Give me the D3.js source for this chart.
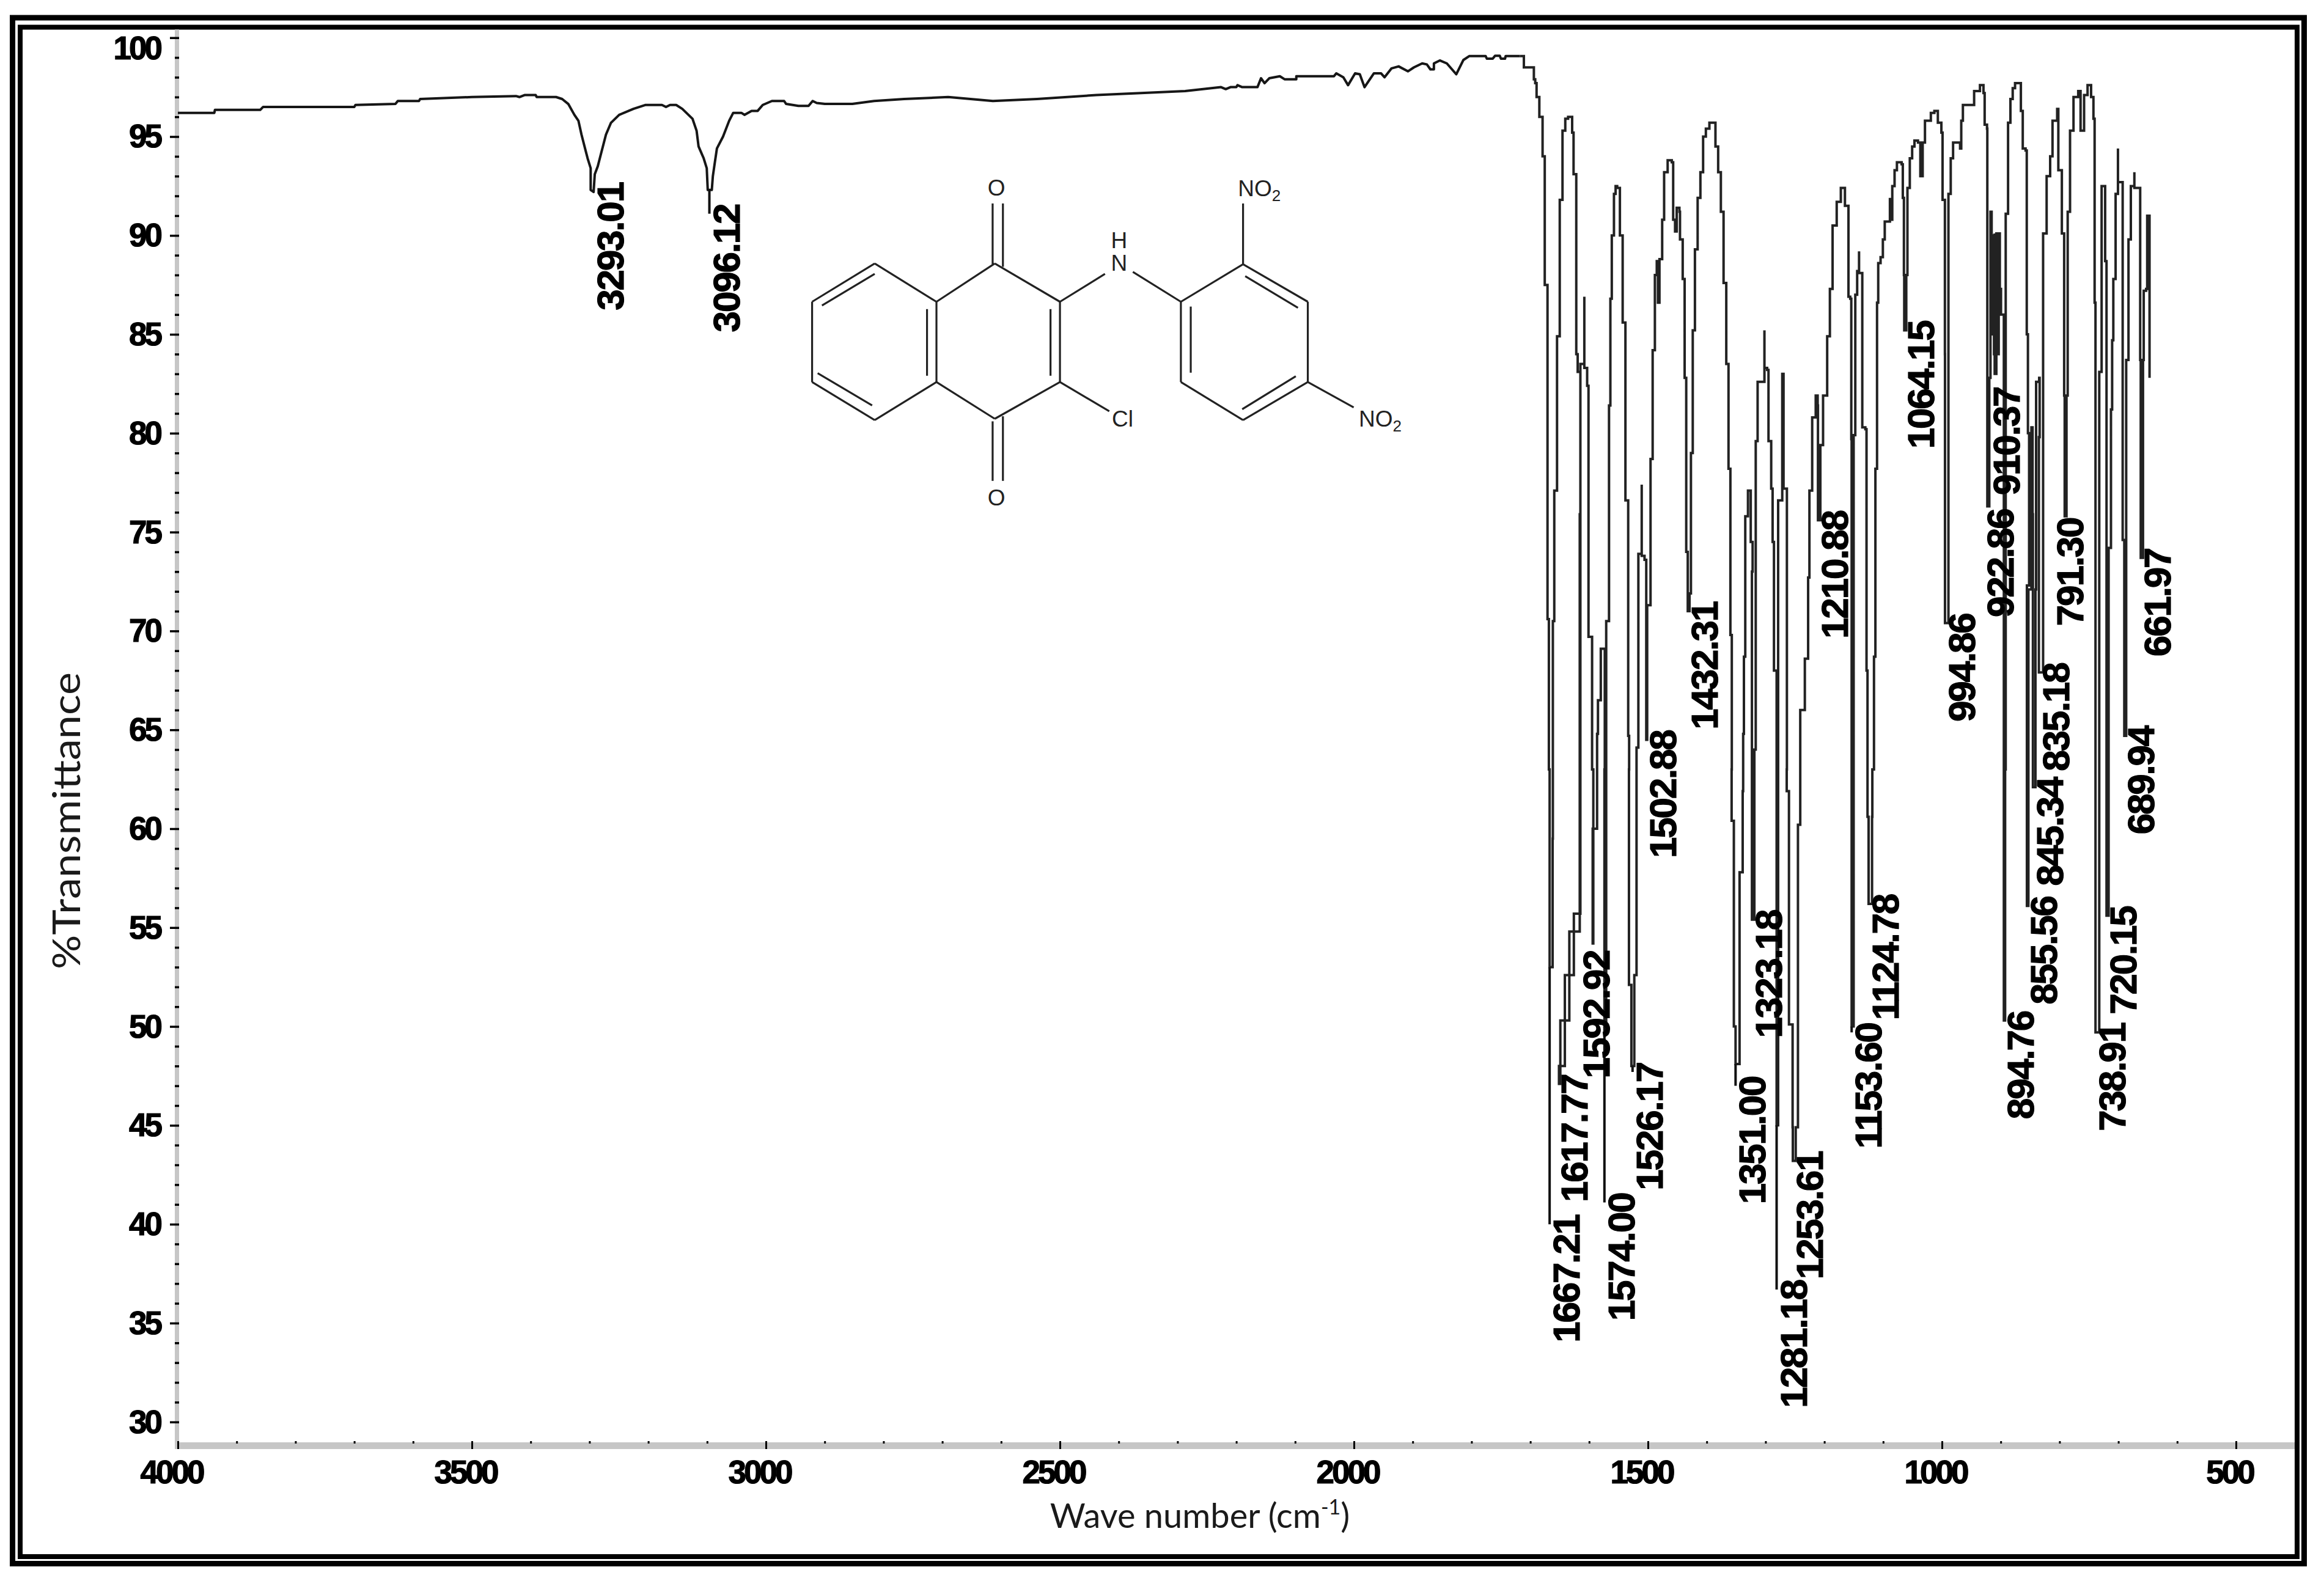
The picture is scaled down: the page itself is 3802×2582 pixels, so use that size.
<!DOCTYPE html>
<html><head><meta charset="utf-8">
<script src="https://cdn.jsdelivr.net/npm/d3@7"></script>
<style>html,body{margin:0;background:#fff}svg{display:block}</style>
</head><body><svg id="c" width="3802" height="2582"></svg>
<script>
// --- chart values -------------------------------------------------------
const yTicks = [100,95,90,85,80,75,70,65,60,55,50,45,40,35,30];
const xTicks = [4000,3500,3000,2500,2000,1500,1000,500];

// wave number, %T : smooth part of the trace
const baseline = [[4000,96.2],[3938,96.2],[3937,96.35],[3860,96.35],[3855,96.5],[3700,96.5],[3698,96.6],[3630,96.65],[3626,96.8],[3590,96.8],[3588,96.9],[3500,97],[3425,97.05],
[3419.2,97],[3410.5,97.1],[3391.5,97.1],[3389.8,97],[3356.9,97],[3346.5,96.9],[3336.1,96.65],[3325.7,96.1],[3318.8,95.8],[3313.6,95.1],[3308.4,94.5],[3303.2,93.9],[3298,93.4],[3298,92.3],[3293.01,92.2],[3291,93.1],[3285.9,93.5],[3279,94.3],[3272,95.1],[3263.4,95.7],[3249.5,96.1],[3225.3,96.4],[3204.5,96.6],[3176.8,96.6],[3169.9,96.5],[3163,96.6],[3152.6,96.6],[3142.2,96.4],[3124.8,95.9],[3117.9,95.3],[3114.5,94.5],[3105.8,93.9],[3100.6,93.4],[3098.9,92.3],[3092,92.3],[3090.2,93],[3086.8,93.7],[3083.3,94.4],[3072.9,95],[3062.5,95.8],[3055.6,96.2],[3041.7,96.2],[3036.5,96.1],[3024.4,96.3],[3014,96.3],[3005.4,96.6],[2989.8,96.8],[2969,96.8],[2965.6,96.65],[2944.8,96.55],[2927.5,96.55],[2920.5,96.8],[2913.6,96.7],[2899.8,96.65],
[2853,96.65],[2816,96.8],[2765,96.9],[2690,97],[2614,96.8],[2539,96.9],[2438,97.1],[2362,97.2],[2287,97.3],
[2226,97.5],[2218,97.4],[2210,97.5],[2200,97.5],[2198,97.6],[2190,97.5],[2164,97.5],[2158,97.95],[2152,97.7],[2144,97.95],[2126,98.05],[2118,97.9],[2098,97.9],[2098,98.05],[2034,98.05],[2030,98.2],[2018,98],[2010,97.6],[1998,98.2],[1990,98.15],[1982,97.5],[1966,98.2],[1954,98.2],[1948,98],[1936,98.45],[1924,98.55],[1908,98.3],[1898,98.5],[1884,98.7],[1876,98.65],[1870,98.4],[1864,98.4],[1864,98.7],[1854,98.85],[1842,98.7],[1826,98.15],[1814,98.87],[1804,99.07],[1776,99.07],[1774,98.94],[1764,98.94],[1760,99.09],[1752,99.09],[1750,98.94],[1743,98.94],[1742,99.07],[1718,99.07]];

// wave number, %T : stepped part of the trace (the fingerprint bands)
const fingerprint = [[1718,99.07],[1711,98.5],[1694,97.9],[1691.7,97.7],[1689.4,97],[1684.7,96],[1679.2,94],[1675.5,87.5],[1670.8,70.6],[1668.5,63],[1667.21,53],
[1662.1,59.5],[1661.7,70.5],[1659.3,77.1],[1654.6,84.9],[1650,91.8],[1645.3,95.3],[1640.6,95.9],[1635.8,96],[1628.9,95.2],[1626.5,93.1],[1621.9,84],[1619.5,83.1],[1614.9,75.9],[1616,64.8],[1616,55.7],[1626,54.8],[1633.7,52.6],[1641.3,50.3],[1649,48],[1651.3,47.1],[1649,48],[1641.3,50.3],[1633.7,52.6],[1626,54.8],[1616,55.7],
[1614.9,75.9],[1614.9,83.5],[1608.2,83.3],[1608.2,86.9],[1608.2,83.3],[1603.4,82.4],[1601.1,82.4],[1601.1,69.7],[1596.4,69.7],[1595,63],[1592.92,54.2],
[1594,60],[1586.5,60.2],[1586.5,64.8],[1585,66.5],[1580.2,69.1],[1573.4,65.5],[1573.4,63],[1574,50],
[1571,70.5],[1566.2,81.4],[1563.9,86.8],[1561.5,90],[1557.8,92.1],[1555,92.5],[1552.3,92.4],[1547.7,90],[1543,85.6],[1538.3,76.6],[1533.6,64.7],[1532,63],[1532.3,52.1],[1528.17,48],
[1523.2,52.6],[1519.4,60.3],[1519.4,64.1],[1516.3,73.9],[1513.7,73.9],[1510.6,77.4],[1510.6,73.8],[1505.8,73.6],[1503.6,73.6],[1502.88,64.5],
[1501.3,71.3],[1496.6,71.3],[1495.6,78.7],[1492,84.2],[1488.2,88],[1485,88.7],[1483,86.6],[1480.4,88.8],[1475.8,90.8],[1472.5,93.2],[1466.5,93.8],[1459.5,93.7],[1457.1,90.8],[1453.9,90.2],[1451.1,91.4],[1446.5,91.2],[1445.5,89.8],[1440.9,87.8],[1437.6,82.8],[1434.9,74],[1432.31,71],
[1429.3,71.9],[1426.9,79],[1423.8,85.2],[1420.1,89.3],[1415.5,91.9],[1410.8,93.2],[1406.2,95],[1401.5,95.4],[1395.5,95.7],[1389.9,95.7],[1385.2,94.5],[1380.6,93.2],[1376,91.2],[1371.4,87.6],[1366.8,83.5],[1363,78.2],[1359.8,69.8],[1357.4,63],[1357.7,60.4],[1353.9,50],[1351,48.1],
[1344.2,57.8],[1338.9,61.9],[1338.1,64.8],[1336.8,68.7],[1334.5,75.8],[1329.9,77.1],[1325.2,74.5],[1322,73],[1323.18,55.4],
[1319,64],[1316.7,79.6],[1313.5,82.6],[1306.5,82.6],[1301.9,85.2],[1301.9,83.3],[1297.3,83.2],[1295,79.6],[1290.4,77.2],[1288,74.5],[1285.7,68],[1281.18,67.9],[1281.18,45],
[1278.6,76.6],[1271.6,77.4],[1271.6,83],[1269.4,77.2],[1264.6,77.2],[1263.7,63],[1264,61.9],[1260.2,50.1],[1254,44.9],[1253.61,43.2],
[1248.7,44.9],[1244.9,60.2],[1241,60.2],[1241,66],[1233.2,68.6],[1227.6,72.7],[1225.4,77.1],[1220.7,80.8],[1214.7,80.9],[1214.7,81.9],[1211.4,81.4],[1210.88,79.4],[1210.88,75.6],
[1206.8,79.4],[1202.2,81.9],[1195.2,84.9],[1190.6,87.3],[1186,90.5],[1179,91.7],[1172,92.4],[1165,91.5],[1159,91.2],[1159,86.9],[1156,86.8],[1154.2,79.7],[1153.6,76.6],[1153.6,50],
[1150.2,79.9],[1147.4,87],[1144.2,88.2],[1141,89.2],[1141,88.1],[1136.3,88.1],[1135.5,80.3],[1130.3,80.2],[1128.3,68],[1126.6,60.6],[1124.78,56.2],
[1118.9,60.6],[1118.4,63],[1115.6,68.7],[1113.2,78.2],[1110.4,86.6],[1108.4,88.6],[1104.4,88.9],[1100.5,89.8],[1097.3,90.7],[1088.5,91.9],[1088.5,90.8],[1084.5,92.5],[1080.6,93.3],[1076.6,93.7],[1068.6,93.6],[1066.6,91.9],[1064.7,88],[1064.15,85.2],
[1060.7,88],[1058.7,92.4],[1054.7,93.9],[1050.7,94.5],[1046.8,94.8],[1040.8,94.7],[1036.8,93],[1033.6,93],[1032.8,94.7],[1028.9,95.8],[1018.9,96.2],[1012.9,96.3],[1007,95.7],[1001,95.2],[999,91.8],[995,87.5],[995,84],[994.86,70.4],
[989,87.5],[989,92.1],[985.1,93.9],[981.1,94.7],[975.2,94.7],[969.2,94.4],[967.2,95.8],[964.4,96.6],[945.3,97.3],[935.4,97.6],[929.4,97.2],[927.4,95.6],[923.4,95.4],[922.86,87.2],[922.86,76.3],
[919.5,82.8],[917.5,91.2],[915.5,85],[913.5,90],[911.5,84],[910.37,90.1],[910.37,83],[907.5,90.1],[905.5,84],[903.5,90.1],[901.6,90.1],[901.6,87.3],[899.6,87.3],[899.6,86],[897.6,86],[894.76,63],[894.76,50.3],
[892.6,63],[891.6,91.1],[887.6,95.7],[883.6,96.9],[879.7,97.45],[875.7,97.7],[869.7,97.7],[865.8,96.3],[862.6,94.4],[857.8,94.3],[855.8,85],[853.8,80],[851.8,72.3],[855.56,56.1],
[853,72.1],[847.9,80.3],[845.9,75.9],[845.34,75.9],[845.34,62.1],[841,72.1],[839.9,82.6],[834.7,82.8],[833.9,79.8],[835.18,69.3],[835.18,67.9],
[828,79.8],[828,90.1],[822,93],[816,94],[812,95.8],[804.1,96.4],[802.1,93.3],[796.1,90.1],[792.2,81.9],[791.3,77.7],[791.3,75.8],
[788.2,81.9],[786.2,91.2],[782.2,95.3],[776.3,97],[768.3,97.3],[764.3,95.3],[758.3,97.1],[752.4,97.6],[746.4,97],[742.4,95.9],[740.4,86.6],[738.91,83.1],[738.91,49.7],
[732.5,66.2],[732.5,83.1],[728.5,88.8],[728.5,92.5],[722.5,88.7],[720.15,74.2],[720.15,55.6],
[716.6,74.2],[712.6,81.2],[710.6,84.7],[708.6,87.8],[704.7,92.1],[700.7,94.4],[700.7,92.7],[694.7,92.7],[692.7,74.6],[689.94,67.3],[689.94,64.7],
[686.7,83.7],[682.8,89.8],[678.8,92.5],[672.8,93.2],[672.8,92.4],[666.9,92.4],[662.9,83.7],[661.97,73.7],
[658.1,83.7],[656.9,87.2],[652.9,87.3],[651,91],[647,90.9],[647,82.8]];

// peak labels, the %T the trace reaches there, and the %T the label rule runs to
const peakLabels = ["3293.01","3096.12","1667.21","1617.77","1592.92","1574.00","1526.17","1502.88","1432.31","1351.00","1323.18","1281.18","1253.61","1210.88","1153.60","1124.78","1064.15","994.86","922.86","910.37","894.76","855.56","845.34","835.18","791.30","738.91","720.15","689.94","661.97"];
const peakTrace  = [92.2,92.3,53,47.1,54.2,50,48,64.5,71,48.1,55.4,45,43.2,75.6,50,56.2,85.2,70.4,76.3,83,50.3,56.1,62.1,67.9,75.8,49.7,55.6,64.7,73.7];
const peakRule   = [92.2,91.1,40,47.1,54.2,41.1,47.7,64.5,71,47,55.4,36.7,43.2,75.6,49.7,56.2,85.2,70.4,76.3,83,50.3,56.1,62.1,67.9,75.8,49.7,55.6,64.7,73.7];
const peakRuleWn = {"1617.77":1651.3};

// structure inset: atoms and bonds
const atoms = {a1:[258,437],a2:[402,588],a3:[402,905],a4:[258,1055],a5:[112,905],a6:[112,588],
 b1:[538,437],b2:[690,588],b3:[690,905],b4:[538,1050],
 c1:[972,588],c2:[1117,440],c3:[1268,588],c4:[1268,905],c5:[1117,1055],c6:[972,905]};
const ringBonds = [["a1","a2"],["a2","a3"],["a3","a4"],["a4","a5"],["a5","a6"],["a6","a1"],
 ["a2","b1"],["b1","b2"],["b2","b3"],["b3","b4"],["b4","a3"],
 ["c1","c2"],["c2","c3"],["c3","c4"],["c4","c5"],["c5","c6"],["c6","c1"]];
const extraBonds = [[258,478,135,603],[125,870,252,997],[380,617,380,880],[668,617,668,880],
 [1122,487,1245,612],[995,607,995,868],[1240,882,1115,1012],
 [533,200,533,440],[557,200,557,450],[533,1060,533,1295],[557,1040,557,1295],
 [690,588,795,478],[860,470,972,588],[1117,440,1117,200],[1268,905,1375,1005],[690,905,805,1020]];
const atomLabels = [["O",542,138],["O",542,1360],["H",828,345],["N",828,435],["Cl",836,1050]];
const nitroLabels = [[1155,140],[1437,1050]];

// --- drawing ------------------------------------------------------------
const svg = d3.select("#c");
const ink = "#161616";
const x = d3.scaleLinear().domain([4000,500]).range([291,3658]);
const y = d3.scaleLinear().domain([100,30]).range([61.7,2326.7]);
const numFont = "'Liberation Sans',Arial,sans-serif";

svg.append("rect").attr("width",3802).attr("height",2582).attr("fill","#fff");
svg.append("rect").attr("x",20.5).attr("y",29).attr("width",3749).attr("height",2529.5).attr("fill","none").attr("stroke","#000").attr("stroke-width",9);
svg.append("rect").attr("x",33).attr("y",44.5).attr("width",3725).attr("height",2502.5).attr("fill","none").attr("stroke","#000").attr("stroke-width",8);

// axis bands
svg.append("rect").attr("x",286).attr("y",48).attr("width",7).attr("height",2323).attr("fill","#c6c6c6");
svg.append("rect").attr("x",286).attr("y",2360).attr("width",3468).attr("height",11).attr("fill","#c6c6c6");

// y axis
const yMinor = d3.range(30,101).filter(v=>v%5!==0);
const yAxisG = svg.append("g").attr("transform","translate(293,0)");
yAxisG.append("g").call(d3.axisLeft(y).tickValues(yMinor).tickSize(7).tickFormat("")).call(g=>g.select(".domain").remove())
  .selectAll("line").attr("stroke","#000").attr("stroke-width",3.5);
yAxisG.append("g").call(d3.axisLeft(y).tickValues(yTicks).tickSize(15).tickPadding(10).tickFormat(d3.format("d")))
  .call(g=>g.select(".domain").remove())
  .call(g=>{g.selectAll("line").attr("stroke","#000").attr("stroke-width",3.5);
    g.selectAll("text").attr("font-family",numFont).attr("font-weight",700).attr("font-size",53).attr("letter-spacing",-4)
     .attr("fill","#000").attr("stroke","#000").attr("stroke-width",1.2).attr("dx",-6)
     .attr("dy",d=>d===100?"0.66em":"0.33em");});

// x axis
const xMinor = d3.range(500,4001,100).filter(v=>v%500!==0);
const xAxisG = svg.append("g").attr("transform","translate(0,2358)");
xAxisG.append("g").call(d3.axisTop(x).tickValues(xMinor).tickSize(0)).call(g=>g.select(".domain").remove())
  .call(g=>{g.selectAll("text").remove();
    g.selectAll("line").attr("y1",0).attr("y2",4).attr("stroke","#000").attr("stroke-width",3);});
xAxisG.append("g").call(d3.axisBottom(x).tickValues(xTicks).tickSize(13).tickPadding(18).tickFormat(d3.format("d")))
  .call(g=>g.select(".domain").remove())
  .call(g=>{g.selectAll("line").attr("stroke","#000").attr("stroke-width",3);
    g.selectAll("text").attr("font-family",numFont).attr("font-weight",700).attr("font-size",53).attr("letter-spacing",-4)
     .attr("fill","#000").attr("stroke","#000").attr("stroke-width",1.2).attr("dx",-11);});

// trace
const line = d3.line().x(d=>x(d[0])).y(d=>y(d[1]));
svg.append("path").datum(baseline).attr("d",line).attr("fill","none").attr("stroke",ink).attr("stroke-width",4).attr("stroke-linejoin","round");
svg.append("path").datum(fingerprint).attr("d",line.curve(d3.curveStepAfter)).attr("fill","none").attr("stroke","#222").attr("stroke-width",4).attr("stroke-linejoin","miter");

// peak rules and labels
const labelShift = {"1617.77":-35,"1592.92":-23,"922.86":-6,"910.37":-8,"791.30":-19};
const labelLift  = {"910.37":-37,"791.30":-18,"1592.92":-27,"922.86":-20};
const peaks = peakLabels.map((t,i)=>({t,wn:+t,top:peakTrace[i],end:peakRule[i]}));
svg.append("g").selectAll("line").data(peaks).join("line")
  .attr("x1",d=>x(peakRuleWn[d.t]||d.wn)).attr("x2",d=>x(peakRuleWn[d.t]||d.wn))
  .attr("y1",d=>y(d.top)).attr("y2",d=>y(d.end))
  .attr("stroke","#111").attr("stroke-width",4);
svg.append("g").selectAll("text").data(peaks).join("text")
  .attr("transform",d=>`translate(${x(d.wn)+30+(labelShift[d.t]||0)+19},${y(d.end)-15-(labelLift[d.t]||0)}) rotate(-90)`)
  .attr("text-anchor","end")
  .attr("font-family",numFont).attr("font-weight",700).attr("font-size",62).attr("letter-spacing",-2.2)
  .attr("fill","#000").attr("stroke","#000").attr("stroke-width",1.2)
  .text(d=>d.t);

// axis titles
svg.append("text").attr("transform","translate(131,1343) rotate(-90)").attr("text-anchor","middle")
  .attr("font-family","Lato,'Open Sans',sans-serif").attr("font-size",62).attr("fill","#1a1a1a")
  .attr("textLength",486).attr("lengthAdjust","spacingAndGlyphs").text("%Transmittance");
const xt = svg.append("text").attr("x",1963).attr("y",2500).attr("text-anchor","middle")
  .attr("font-family","Lato,'Open Sans',sans-serif").attr("font-size",56).attr("fill","#1a1a1a");
xt.append("tspan").text("Wave number (cm");
xt.append("tspan").attr("font-size",34).attr("dy",-22).text("-1");
xt.append("tspan").attr("dy",22).text(")");

// structure inset
const mx = d3.scaleLinear().domain([0,1568]).range([1250,2350]);
const my = d3.scaleLinear().domain([0,1568]).range([250,900]);
const mol = svg.append("g").attr("stroke","#222").attr("stroke-width",3.2).attr("fill","none");
mol.selectAll("line.r").data(ringBonds).join("line").attr("class","r")
  .attr("x1",d=>mx(atoms[d[0]][0])).attr("y1",d=>my(atoms[d[0]][1]))
  .attr("x2",d=>mx(atoms[d[1]][0])).attr("y2",d=>my(atoms[d[1]][1]));
mol.selectAll("line.e").data(extraBonds).join("line").attr("class","e")
  .attr("x1",d=>mx(d[0])).attr("y1",d=>my(d[1])).attr("x2",d=>mx(d[2])).attr("y2",d=>my(d[3]));
const molText = svg.append("g").attr("font-family",numFont).attr("font-size",37).attr("fill","#222");
molText.selectAll("text.a").data(atomLabels).join("text").attr("class","a")
  .attr("x",d=>mx(d[1])).attr("y",d=>my(d[2])+13).attr("text-anchor","middle").text(d=>d[0]);
const nitro = molText.selectAll("text.n").data(nitroLabels).join("text").attr("class","n")
  .attr("x",d=>mx(d[0])).attr("y",d=>my(d[1])+13).attr("text-anchor","middle");
nitro.append("tspan").text("NO");
nitro.append("tspan").attr("font-size",26).attr("dy",8).text("2");
</script></body></html>
